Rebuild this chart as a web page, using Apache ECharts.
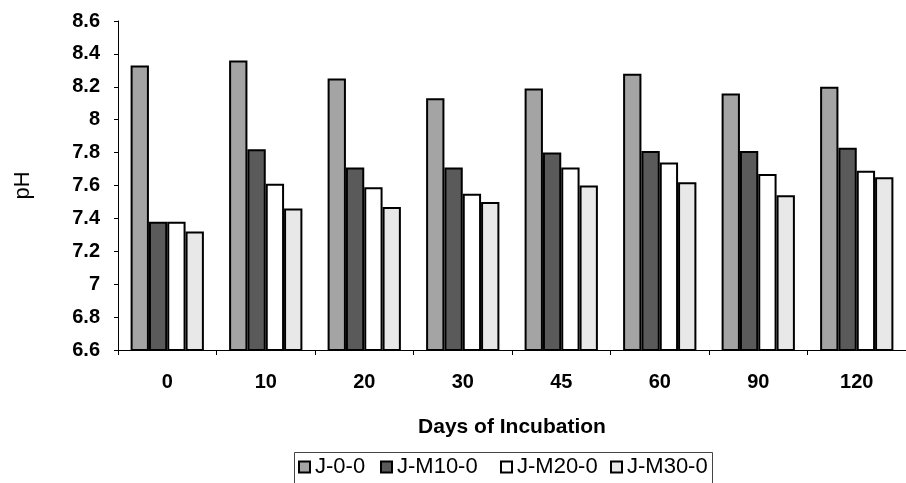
<!DOCTYPE html>
<html>
<head>
<meta charset="utf-8">
<script src="https://cdn.jsdelivr.net/npm/echarts@6/dist/echarts.min.js"></script>
<style>
  html, body { margin: 0; padding: 0; background: #fff; }
  #chart { width: 906px; height: 483px; }
</style>
</head>
<body>
<div id="chart"></div>
<script>
// Incubation days (category axis)
const days = ['0', '10', '20', '30', '45', '60', '90', '120'];

// pH readings per treatment
const seriesNames = ['J-0-0', 'J-M10-0', 'J-M20-0', 'J-M30-0'];
const pH_J00   = [8.33, 8.36, 8.25, 8.13, 8.19, 8.28, 8.16, 8.20];
const pH_JM10  = [7.38, 7.82, 7.71, 7.71, 7.80, 7.81, 7.81, 7.83];
const pH_JM20  = [7.38, 7.61, 7.59, 7.55, 7.71, 7.74, 7.67, 7.69];
const pH_JM30  = [7.32, 7.46, 7.47, 7.50, 7.60, 7.62, 7.54, 7.65];

// y-axis range
const yMin = 6.6, yMax = 8.6, yStep = 0.2;

const values = [pH_J00, pH_JM10, pH_JM20, pH_JM30];
const fills = ['#a4a4a4', '#5a5a5a', '#ffffff', '#e8e8e8'];

// one legend per entry so each can sit at its own x; a single frame surrounds them
const legendLefts = [298, 380, 500, 610];
const legends = seriesNames.map((n, i) => ({
  left: legendLefts[i],
  top: 456,
  padding: 0,
  itemWidth: 11,
  itemHeight: 11,
  icon: 'rect',
  data: [n],
  textStyle: { fontSize: 22, color: '#000', fontFamily: 'Liberation Sans, Arial, sans-serif' }
}));

const chart = echarts.init(document.getElementById('chart'), null, { renderer: 'canvas' });

chart.setOption({
  animation: false,
  backgroundColor: '#ffffff',
  textStyle: { fontFamily: 'Liberation Sans, Arial, sans-serif', color: '#000' },
  grid: { left: 118, top: 21, width: 796, height: 329, containLabel: false },
  legend: legends,
  graphic: [{
    type: 'rect',
    left: 292,
    top: 450,
    shape: { width: 418, height: 60 },
    style: { fill: 'none', stroke: '#444', lineWidth: 1 },
    silent: true
  }],
  xAxis: {
    type: 'category',
    data: days,
    name: 'Days of Incubation',
    nameLocation: 'middle',
    nameGap: 67,
    nameTextStyle: { fontSize: 21, fontWeight: 'bold', color: '#000' },
    axisLine: { lineStyle: { color: '#000', width: 1 } },
    axisTick: { show: true, alignWithLabel: false, length: 5, lineStyle: { color: '#000' } },
    axisLabel: { fontSize: 20, fontWeight: 'bold', color: '#000', margin: 22 },
    splitLine: { show: false }
  },
  yAxis: {
    type: 'value',
    min: yMin,
    max: yMax,
    interval: yStep,
    name: 'pH',
    nameLocation: 'middle',
    nameGap: 84,
    nameTextStyle: { fontSize: 22, color: '#000' },
    axisLine: { show: true, lineStyle: { color: '#000', width: 1 } },
    axisTick: { show: true, length: 4, lineStyle: { color: '#000' } },
    axisLabel: {
      fontSize: 20, fontWeight: 'bold', color: '#000', margin: 18,
      formatter: v => String(Math.round(v * 10) / 10)
    },
    splitLine: { show: false }
  },
  series: seriesNames.map((n, i) => ({
    name: n,
    type: 'bar',
    data: values[i],
    barGap: '0%',
    barCategoryGap: '25.6%',
    itemStyle: { color: fills[i], borderColor: '#000', borderWidth: 2 }
  }))
});
</script>
</body>
</html>
